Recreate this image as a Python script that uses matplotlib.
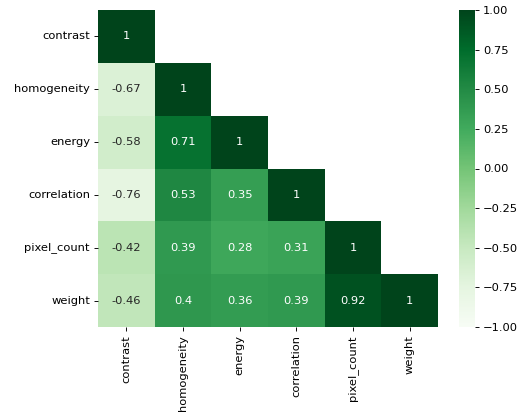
import numpy as np
import matplotlib
matplotlib.use("Agg")
import matplotlib.pyplot as plt
import seaborn as sns

features = ["contrast", "homogeneity", "energy", "correlation", "pixel_count", "weight"]

# lower-triangle correlation values, row by row
row_contrast = [1]
row_homogeneity = [-0.67, 1]
row_energy = [-0.58, 0.71, 1]
row_correlation = [-0.76, 0.53, 0.35, 1]
row_pixel_count = [-0.42, 0.39, 0.28, 0.31, 1]
row_weight = [-0.46, 0.40, 0.36, 0.39, 0.92, 1]

rows = [row_contrast, row_homogeneity, row_energy, row_correlation, row_pixel_count, row_weight]
n = len(features)
corr = np.zeros((n, n))
for i, r in enumerate(rows):
    for j, v in enumerate(r):
        corr[i, j] = v
        corr[j, i] = v

mask = np.triu(np.ones((n, n), dtype=bool), k=1)

W, H = 528, 415
DPI = 82.5
fig = plt.figure(figsize=(W / DPI, H / DPI), dpi=DPI)
ax = fig.add_axes([98 / W, 88 / H, 340 / W, 317 / H])
cax = fig.add_axes([459 / W, 88 / H, 16 / W, 317 / H])

sns.heatmap(corr, mask=mask, cmap="Greens", vmin=-1, vmax=1, annot=True,
            xticklabels=features, yticklabels=features, ax=ax, cbar_ax=cax)
ax.set_yticklabels(features, rotation=0)
ax.set_xticklabels(features, rotation=90)

fig.savefig("out.png", dpi=DPI)
